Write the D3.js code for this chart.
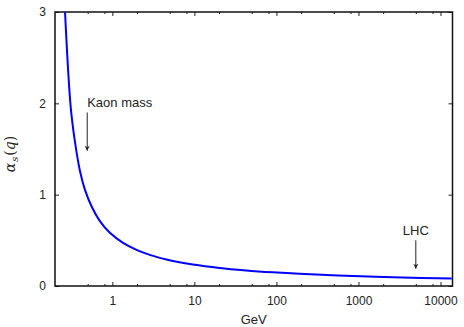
<!DOCTYPE html>
<html>
<head>
<meta charset="utf-8">
<script src="https://cdn.jsdelivr.net/npm/d3@7"></script>
<style>
  body { margin: 0; background: #fff; }
  svg text { font-family: "Liberation Sans", Arial, sans-serif; font-size: 13px; fill: #222; }
</style>
</head>
<body>
<svg id="chart" width="464" height="327"></svg>
<script>
// values
const qGeV = [0.265, 0.31, 0.35, 0.403, 0.463, 0.559, 0.705, 0.933, 1.35, 1.97, 2.86, 4.56, 9.6, 20.2, 42.7, 90, 190, 701, 3390, 13700];
const alphaS = [3.0, 1.97, 1.58, 1.26, 1.055, 0.87, 0.71, 0.582, 0.472, 0.396, 0.341, 0.29, 0.236, 0.198, 0.171, 0.15, 0.133, 0.112, 0.094, 0.082];

const xMajorTicks = [1, 10, 100, 1000, 10000];
const xMinorTicks = [0.5, 0.8, 2, 5, 8, 20, 50, 80, 200, 500, 800, 2000, 5000, 8000];
const yTicks = [0, 1, 2, 3];

const markLabels = ['Kaon mass', 'LHC'];
const markQ = [0.494, 5000];
const markFrom = [1.9, 0.5];
const markTo = [1.48, 0.19];

const margin = {top: 12, right: 11.5, bottom: 41, left: 55},
  width = 464 - margin.left - margin.right,
  height = 327 - margin.top - margin.bottom;

const svg = d3.select('#chart')
  .append('g')
  .attr('transform', 'translate(' + margin.left + ',' + margin.top + ')');

const x = d3.scaleLog().domain([0.2, 14000]).range([0, width]);
const y = d3.scaleLinear().domain([0, 3]).range([height, 0]);

// axes, ticks point inward and are mirrored
const fmt = d => d3.format('d')(d);
svg.append('g')
  .attr('transform', 'translate(0,' + height + ')')
  .call(d3.axisBottom(x).tickValues(xMajorTicks).tickFormat(fmt).tickSize(-4).tickPadding(10.5));
svg.append('g')
  .attr('transform', 'translate(0,' + height + ')')
  .call(d3.axisBottom(x).tickValues(xMinorTicks).tickFormat('').tickSize(-2));
svg.append('g')
  .call(d3.axisTop(x).tickValues(xMajorTicks).tickFormat('').tickSize(-4));
svg.append('g')
  .call(d3.axisTop(x).tickValues(xMinorTicks).tickFormat('').tickSize(-2));
svg.append('g')
  .call(d3.axisLeft(y).tickValues(yTicks).tickFormat(d3.format('d')).tickSize(-4).tickPadding(9));
svg.append('g')
  .attr('transform', 'translate(' + width + ',0)')
  .call(d3.axisRight(y).tickValues(yTicks).tickFormat('').tickSize(-4));

svg.selectAll('.domain').remove();
svg.selectAll('.tick line').attr('stroke', '#222').attr('stroke-width', 1);
svg.selectAll('.tick text').style('font-size', '12px').attr('fill', '#222');

svg.append('rect')
  .attr('width', width)
  .attr('height', height)
  .attr('fill', 'none')
  .attr('stroke', '#111')
  .attr('stroke-width', 1.5);

// curve
svg.append('clipPath').attr('id', 'clip')
  .append('rect').attr('width', width).attr('height', height);

const pts = qGeV.map((q, i) => [q, alphaS[i]]);
svg.append('path')
  .datum(pts)
  .attr('clip-path', 'url(#clip)')
  .attr('fill', 'none')
  .attr('stroke', '#0000ff')
  .attr('stroke-width', 2)
  .attr('d', d3.line().x(d => x(d[0])).y(d => y(d[1])).curve(d3.curveCatmullRom.alpha(0.5)));

// annotations
svg.append('defs').append('marker')
  .attr('id', 'head')
  .attr('viewBox', '0 0 10 10')
  .attr('refX', 10).attr('refY', 5)
  .attr('markerUnits', 'userSpaceOnUse')
  .attr('markerWidth', 10).attr('markerHeight', 5)
  .attr('orient', 'auto')
  .append('path').attr('d', 'M0,0L10,5L0,10L3,5Z').attr('fill', '#222');

markLabels.forEach((t, i) => {
  svg.append('line')
    .attr('x1', x(markQ[i])).attr('x2', x(markQ[i]))
    .attr('y1', y(markFrom[i])).attr('y2', y(markTo[i]))
    .attr('stroke', '#222').attr('stroke-width', 1)
    .attr('marker-end', 'url(#head)');
  svg.append('text')
    .attr('x', x(markQ[i]))
    .attr('y', y(markFrom[i]) - 5.5)
    .attr('text-anchor', i === 0 ? 'start' : 'middle')
    .text(t);
});

// axis titles
svg.append('text')
  .attr('x', width / 2)
  .attr('y', height + 37.5)
  .attr('text-anchor', 'middle')
  .text('GeV');

const yl = svg.append('text')
  .attr('transform', 'translate(-40,' + (height / 2 + 5) + ') rotate(-90)')
  .attr('text-anchor', 'middle')
  .style('font-family', '"DejaVu Serif", serif')
  .style('font-size', '14px');
yl.append('tspan').style('font-style', 'italic').text('α');
yl.append('tspan').style('font-style', 'italic').style('font-size', '10px').attr('dy', 3).attr('dx', 1).text('s');
yl.append('tspan').attr('dy', -3).attr('dx', 1).text('(');
yl.append('tspan').style('font-style', 'italic').text('q');
yl.append('tspan').text(')');
</script>
</body>
</html>
